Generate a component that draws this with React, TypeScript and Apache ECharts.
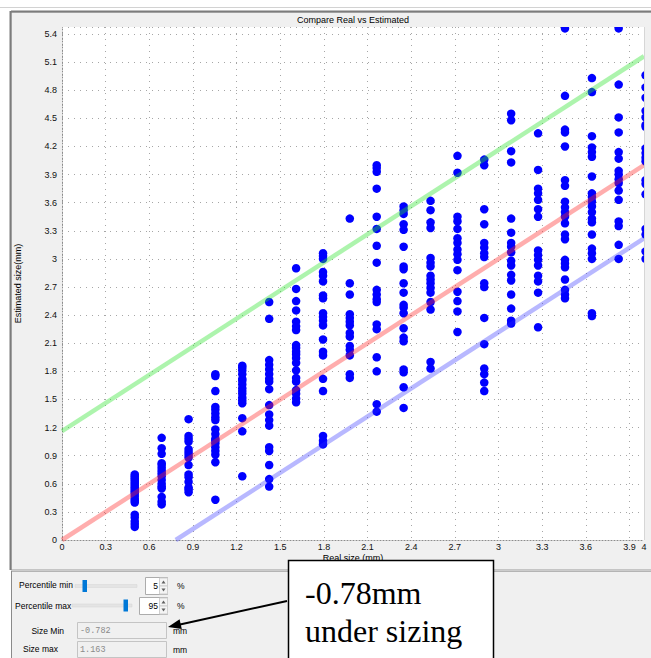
import React, { useEffect, useRef } from "react";
import * as echarts from "echarts";

// Real sizes (mm) of each measured column
const realSizes = [0.5, 0.685, 0.87, 1.054, 1.239, 1.424, 1.609, 1.794, 1.978, 2.163, 2.348, 2.533, 2.718, 2.902, 3.087, 3.272, 3.457, 3.642, 3.826, 4.011];

// Estimated sizes (mm) per column, same order as realSizes
const estimatedByColumn: number[][] = [
  [0.70, 0.68, 0.66, 0.64, 0.62, 0.60, 0.58, 0.56, 0.54, 0.52, 0.50, 0.47, 0.44, 0.42, 0.40, 0.27, 0.24, 0.20, 0.17, 0.14],
  [1.09, 0.98, 0.92, 0.82, 0.80, 0.77, 0.74, 0.71, 0.68, 0.64, 0.60, 0.57, 0.55, 0.46, 0.41, 0.38],
  [1.29, 1.11, 1.08, 1.05, 0.97, 0.94, 0.91, 0.88, 0.80, 0.70, 0.67, 0.62, 0.56, 0.54, 0.51],
  [1.77, 1.75, 1.59, 1.42, 1.39, 1.35, 1.31, 1.28, 1.18, 1.13, 1.08, 1.06, 1.03, 0.99, 0.95, 0.91, 0.83, 0.43],
  [1.86, 1.84, 1.81, 1.77, 1.72, 1.70, 1.66, 1.62, 1.59, 1.56, 1.52, 1.49, 1.46, 1.30, 1.16, 0.68],
  [2.54, 2.36, 1.92, 1.87, 1.82, 1.77, 1.72, 1.69, 1.61, 1.44, 1.34, 1.28, 1.22, 0.99, 0.95, 0.80, 0.65, 0.57],
  [2.90, 2.68, 2.55, 2.45, 2.33, 2.28, 2.24, 2.08, 2.05, 2.01, 1.98, 1.94, 1.89, 1.81, 1.73, 1.69, 1.60, 1.56, 1.51, 1.47],
  [3.06, 3.03, 3.00, 2.86, 2.82, 2.76, 2.61, 2.58, 2.42, 2.38, 2.34, 2.29, 2.14, 2.01, 1.97, 1.72, 1.59, 1.11, 1.06, 1.02],
  [3.43, 2.74, 2.62, 2.41, 2.37, 2.33, 2.29, 2.21, 2.17, 2.07, 2.03, 1.97, 1.77, 1.73],
  [4.00, 3.97, 3.93, 3.75, 3.45, 3.32, 3.14, 2.96, 2.67, 2.62, 2.57, 2.54, 2.30, 2.25, 1.95, 1.80, 1.45, 1.37],
  [3.56, 3.52, 3.48, 3.37, 3.31, 3.13, 2.92, 2.89, 2.74, 2.64, 2.51, 2.48, 2.42, 2.26, 2.16, 2.12, 1.82, 1.79, 1.63, 1.41],
  [3.62, 3.52, 3.39, 3.33, 3.01, 2.96, 2.92, 2.82, 2.78, 2.74, 2.69, 2.64, 2.54, 2.46, 1.90, 1.83],
  [4.10, 3.92, 3.45, 3.40, 3.32, 3.22, 3.17, 3.10, 3.05, 2.99, 2.88, 2.65, 2.55, 2.44, 2.22],
  [4.06, 4.00, 3.53, 3.37, 3.17, 3.12, 3.06, 3.02, 2.74, 2.70, 2.37, 2.09, 1.83, 1.77, 1.68, 1.59],
  [4.55, 4.48, 4.15, 4.03, 3.43, 3.28, 3.17, 3.13, 3.07, 2.98, 2.93, 2.83, 2.77, 2.62, 2.47, 2.34, 2.31],
  [4.34, 3.95, 3.75, 3.70, 3.63, 3.53, 3.45, 3.09, 3.04, 2.99, 2.93, 2.82, 2.76, 2.64, 2.27],
  [5.46, 4.74, 4.38, 4.35, 4.20, 3.84, 3.78, 3.61, 3.55, 3.50, 3.45, 3.38, 3.26, 3.21, 2.99, 2.95, 2.91, 2.78, 2.67, 2.62, 2.58],
  [4.93, 4.78, 4.31, 4.19, 4.14, 4.09, 3.88, 3.70, 3.66, 3.61, 3.56, 3.50, 3.43, 3.39, 3.26, 3.11, 3.06, 3.00, 2.42, 2.39],
  [5.46, 4.86, 4.51, 4.35, 4.14, 4.07, 3.94, 3.90, 3.85, 3.81, 3.73, 3.63, 3.40, 3.35, 3.15, 3.00],
  [4.96, 4.83, 4.72, 4.58, 4.51, 4.43, 4.41, 4.18, 4.13, 4.08, 4.04, 3.84, 3.80, 3.69, 3.32, 3.26, 3.08, 3.00],
];

// Axis settings
const xMin = 0;
const xMax = 4;
const yMin = 0;
const yMax = 5.475;
const tickStep = 0.3;

// Percentile results
const percentileMin = 5;
const percentileMax = 95;
const sizeMin = -0.782;
const sizeMax = 1.163;
const annotationLines = ["-0.78mm", "under sizing"];

const UI_FONT = "'Liberation Sans', Arial, sans-serif";
const WIDGET_FONT = "'Liberation Sans Narrow', 'Liberation Sans', Arial, sans-serif";
const GRAY = "#f0f0f0";

export default function App() {
  const ref = useRef<HTMLDivElement>(null);

  useEffect(() => {
    document.body.style.margin = "0";
    const chart = echarts.init(ref.current!, null, { renderer: "svg" });

    const points: number[][] = [];
    realSizes.forEach((x, i) => {
      estimatedByColumn[i].forEach((y) => points.push([x, y]));
    });

    const idealLine = [[xMin, xMin], [xMax, xMax]];
    const upperLine = [[xMin, xMin + sizeMax], [xMax, xMax + sizeMax]];
    const lowerLine = [[-sizeMin, 0], [xMax, xMax + sizeMin]];

    const txt = (text: string, x: number, y: number, extra: any = {}) => ({
      type: "text",
      x,
      y,
      z: 40,
      silent: true,
      style: {
        text,
        fill: "#000",
        font: `8.5px ${WIDGET_FONT}`,
        verticalAlign: "middle",
        align: "left",
        ...extra,
      },
    });

    const spinArrows = (x: number, y: number) => [
      { type: "rect", z: 40, shape: { x, y, width: 8, height: 8 }, style: { fill: "#f4f4f4", stroke: "#cfcfcf", lineWidth: 1 } },
      { type: "rect", z: 40, shape: { x, y: y + 8, width: 8, height: 8 }, style: { fill: "#f4f4f4", stroke: "#cfcfcf", lineWidth: 1 } },
      { type: "polygon", z: 41, shape: { points: [[x + 2, y + 5.5], [x + 6, y + 5.5], [x + 4, y + 2.5]] }, style: { fill: "#606060" } },
      { type: "polygon", z: 41, shape: { points: [[x + 2, y + 10.5], [x + 6, y + 10.5], [x + 4, y + 13.5]] }, style: { fill: "#606060" } },
    ];

    const graphics: any[] = [
      // page + frames (behind the grid)
      { type: "rect", z: -10, shape: { x: 0, y: 0, width: 651, height: 658 }, style: { fill: "#ffffff" } },
      { type: "line", z: -9, shape: { x1: 0, y1: 7.5, x2: 651, y2: 7.5 }, style: { stroke: "#d2d2d2", lineWidth: 1 } },
      { type: "rect", z: -9, shape: { x: 11, y: 12, width: 660, height: 558 }, style: { fill: GRAY, stroke: "#9a9a9a", lineWidth: 1 } },
      { type: "line", z: -8, shape: { x1: 11, y1: 11.5, x2: 651, y2: 11.5 }, style: { stroke: "#7c7c7c", lineWidth: 2 } },
      { type: "line", z: -8, shape: { x1: 10.5, y1: 11, x2: 10.5, y2: 570 }, style: { stroke: "#7c7c7c", lineWidth: 2 } },
      { type: "rect", z: -9, shape: { x: 11, y: 571, width: 660, height: 100 }, style: { fill: GRAY } },
      { type: "line", z: -8, shape: { x1: 11, y1: 571.5, x2: 651, y2: 571.5 }, style: { stroke: "#b4b4b4", lineWidth: 1 } },
      { type: "line", z: -8, shape: { x1: 11.5, y1: 571, x2: 11.5, y2: 658 }, style: { stroke: "#8a8a8a", lineWidth: 1 } },
      { type: "rect", z: -7, shape: { x: 62, y: 27, width: 582, height: 513 }, style: { fill: "#ffffff" } },

      // overlays that clip the plot
      { type: "rect", z: 30, shape: { x: 644, y: 14, width: 8, height: 526 }, style: { fill: GRAY } },
      { type: "line", z: 31, shape: { x1: 644.5, y1: 27, x2: 644.5, y2: 540 }, style: { stroke: "#d6d6d6", lineWidth: 1 } },
      { type: "rect", z: 30, shape: { x: 58, y: 13, width: 593, height: 14 }, style: { fill: GRAY } },
      { type: "text", x: 353, y: 19.5, z: 40, silent: true, style: { text: "Compare Real vs Estimated", fill: "#000", font: `9px ${UI_FONT}`, align: "center", verticalAlign: "middle" } },

      // Percentile min row
      txt("Percentile min", 19, 585),
      { type: "rect", z: 40, shape: { x: 75, y: 584.5, width: 62, height: 3 }, style: { fill: "#e4e4e4", stroke: "#d6d6d6", lineWidth: 0.5 } },
      { type: "rect", z: 41, shape: { x: 82.5, y: 580, width: 4.5, height: 12 }, style: { fill: "#0078d7" } },
      { type: "rect", z: 40, shape: { x: 145.5, y: 577.5, width: 22, height: 17 }, style: { fill: "#ffffff", stroke: "#acacac", lineWidth: 1 } },
      txt(String(percentileMin), 158, 586, { align: "right" }),
      ...spinArrows(159.5, 578),
      txt("%", 177, 586),

      // Percentile max row
      txt("Percentile max", 15, 605.5),
      { type: "rect", z: 40, shape: { x: 72, y: 604, width: 60, height: 3 }, style: { fill: "#e4e4e4", stroke: "#d6d6d6", lineWidth: 0.5 } },
      { type: "rect", z: 41, shape: { x: 123.5, y: 599.5, width: 4.5, height: 12 }, style: { fill: "#0078d7" } },
      { type: "rect", z: 40, shape: { x: 139.5, y: 597.5, width: 28, height: 17 }, style: { fill: "#ffffff", stroke: "#acacac", lineWidth: 1 } },
      txt(String(percentileMax), 158, 606, { align: "right" }),
      ...spinArrows(159.5, 598),
      txt("%", 177, 606),

      // Size Min row
      txt("Size Min", 64, 630.5, { align: "right" }),
      { type: "rect", z: 40, shape: { x: 77.5, y: 622.5, width: 89, height: 16 }, style: { fill: GRAY, stroke: "#c4c4c4", lineWidth: 1 } },
      txt(sizeMin.toFixed(3), 80, 630.5, { fill: "#8a8a8a", font: `8.5px 'Liberation Mono', monospace` }),
      txt("mm", 173, 630.5),

      // Size max row
      txt("Size max", 58, 649, { align: "right" }),
      { type: "rect", z: 40, shape: { x: 77.5, y: 641.5, width: 89, height: 16 }, style: { fill: GRAY, stroke: "#c4c4c4", lineWidth: 1 } },
      txt(sizeMax.toFixed(3), 80, 649.5, { fill: "#8a8a8a", font: `8.5px 'Liberation Mono', monospace` }),
      txt("mm", 173, 649.5),

      // Annotation box and arrow
      { type: "rect", z: 60, shape: { x: 288.5, y: 560.5, width: 205, height: 110 }, style: { fill: "#ffffff", stroke: "#000000", lineWidth: 1.5 } },
      { type: "text", z: 61, x: 305, y: 593, style: { text: annotationLines[0], font: "32px 'Liberation Serif', 'Times New Roman', serif", fill: "#000", verticalAlign: "middle" } },
      { type: "text", z: 61, x: 305, y: 631, style: { text: annotationLines[1], font: "32px 'Liberation Serif', 'Times New Roman', serif", fill: "#000", verticalAlign: "middle" } },
      { type: "line", z: 61, shape: { x1: 287, y1: 601, x2: 180, y2: 624.5 }, style: { stroke: "#000", lineWidth: 2 } },
      { type: "polygon", z: 61, shape: { points: [[168, 627], [179.6, 619.3], [181.8, 629.1]] }, style: { fill: "#000" } },
    ];

    const option: any = {
      animation: false,
      backgroundColor: "transparent",
      grid: { left: 62, right: 7, top: 27, bottom: 118, containLabel: false },
      xAxis: {
        type: "value",
        min: xMin,
        max: xMax,
        interval: tickStep,
        name: "Real size (mm)",
        nameLocation: "middle",
        nameGap: 13,
        nameMoveOverlap: false,
        nameTextStyle: { fontFamily: UI_FONT, fontSize: 9, color: "#000", verticalAlign: "top" },
        axisLine: { show: true, onZero: false, lineStyle: { color: "#8c8c8c", type: [1, 2] } },
        axisTick: { show: false },
        axisLabel: { fontFamily: UI_FONT, fontSize: 9, color: "#111", margin: 2 },
        splitLine: { show: true, lineStyle: { color: "#a6a6a6", type: [1, 5], width: 1 } },
      },
      yAxis: {
        type: "value",
        min: yMin,
        max: yMax,
        interval: tickStep,
        name: "Estimated size(mm)",
        nameLocation: "middle",
        nameGap: 40,
        nameRotate: 90,
        nameMoveOverlap: false,
        nameTextStyle: { fontFamily: UI_FONT, fontSize: 9, color: "#000" },
        axisLine: { show: true, onZero: false, lineStyle: { color: "#8c8c8c", type: [1, 2] } },
        axisTick: { show: false },
        axisLabel: {
          fontFamily: UI_FONT,
          fontSize: 9,
          color: "#111",
          margin: 5,
          formatter: (v: number) => {
            const k = v / tickStep;
            return Math.abs(k - Math.round(k)) < 1e-6 ? String(+v.toFixed(1)) : "";
          },
        },
        splitLine: { show: true, lineStyle: { color: "#a6a6a6", type: [1, 5], width: 1 } },
      },
      series: [
        {
          type: "scatter",
          data: points,
          symbol: "circle",
          symbolSize: 8.5,
          clip: false,
          itemStyle: { color: "#0000ff", opacity: 1 },
          z: 3,
          silent: true,
        },
        {
          type: "line",
          data: upperLine,
          showSymbol: false,
          clip: false,
          lineStyle: { color: "rgba(40,225,40,0.38)", width: 4.5 },
          z: 4,
          silent: true,
        },
        {
          type: "line",
          data: idealLine,
          showSymbol: false,
          clip: false,
          lineStyle: { color: "rgba(255,40,40,0.38)", width: 4.5 },
          z: 4,
          silent: true,
        },
        {
          type: "line",
          data: lowerLine,
          showSymbol: false,
          clip: false,
          lineStyle: { color: "rgba(40,40,255,0.33)", width: 4.5 },
          z: 4,
          silent: true,
        },
      ],
      graphic: { elements: graphics },
    };

    chart.setOption(option);
    return () => chart.dispose();
  }, []);

  return <div ref={ref} style={{ width: 651, height: 658 }} />;
}
